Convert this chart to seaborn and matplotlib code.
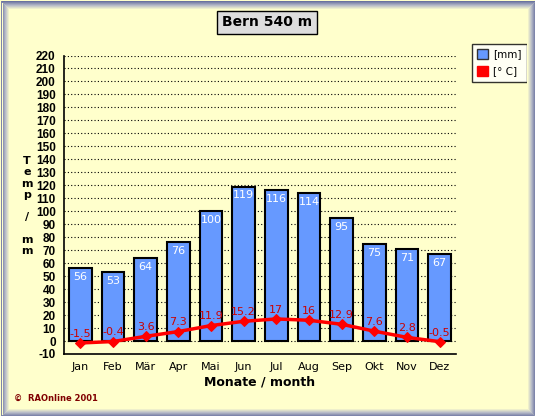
import numpy as np
import pandas as pd
import matplotlib
matplotlib.use("Agg")
import matplotlib.pyplot as plt
from matplotlib.patches import Rectangle, Patch
import seaborn as sns

# Bern 540 m - Klimadiagramm
months = ['Jan', 'Feb', 'Mär', 'Apr', 'Mai', 'Jun', 'Jul', 'Aug', 'Sep', 'Okt', 'Nov', 'Dez']
rain_mm = [56, 53, 64, 76, 100, 119, 116, 114, 95, 75, 71, 67]
temp_c = [-1.5, -0.4, 3.6, 7.3, 11.9, 15.2, 17, 16, 12.9, 7.6, 2.8, -0.5]
y_ticks = list(range(-10, 230, 10))

df = pd.DataFrame({'Monat': months, 'mm': rain_mm, 'temp': temp_c})

BG = '#FFFFCC'
BLUE = '#6699FF'
RED = '#FF0000'

sns.set_style('white')
plt.rcParams['font.family'] = ['DejaVu Sans']
plt.rcParams['text.color'] = 'black'
plt.rcParams['xtick.color'] = 'black'
plt.rcParams['ytick.color'] = 'black'
plt.rcParams['axes.labelcolor'] = 'black'

fig = plt.figure(figsize=(5.35, 4.16), dpi=100, facecolor=BG)
ax = fig.add_axes([64 / 535, 1 - 354 / 416, 392 / 535, 298.5 / 416])
ax.set_facecolor(BG)

# dotted grid behind the bars
for v in y_ticks[1:]:
    ax.axhline(v, color='black', linestyle=(0, (1, 2)), linewidth=0.8, zorder=0)

sns.barplot(data=df, x='Monat', y='mm', color=BLUE, width=0.7, edgecolor='black',
            linewidth=1.5, saturation=1, ax=ax, zorder=2)

x_pos = np.arange(len(months))
sns.lineplot(x=x_pos, y=df['temp'], color=RED, linewidth=2.5, marker='D', markersize=5,
             markeredgecolor=RED, ax=ax, zorder=4)

for i, v in enumerate(rain_mm):
    ax.text(i, v - 3, str(v), color='white', ha='center', va='top', fontsize=8, zorder=5)
for i, t in enumerate(temp_c):
    lab = f'{t:g}'
    ax.annotate(lab, (i, t), xytext=(0, 3), textcoords='offset points', ha='center',
                va='bottom', color='#CC0000', fontsize=8, zorder=5)

ax.set_xlim(-0.5, 11.5)
ax.set_ylim(-10, 220)
ax.set_yticks(y_ticks)
ax.set_yticklabels([str(v) for v in y_ticks], fontsize=8.5, fontweight='bold',
                   family='Liberation Sans')
ax.set_xticks(x_pos)
ax.set_xticklabels(months, fontsize=8)
ax.set_xticks(np.arange(-0.5, 12, 1), minor=True)
ax.tick_params(axis='x', which='major', length=0, pad=6)
ax.tick_params(axis='x', which='minor', length=5, width=1, direction='out', color='black')
ax.tick_params(axis='y', length=5, width=1, direction='out', color='black', pad=1)
ax.set_xlabel('Monate / month', fontsize=9, fontweight='bold', labelpad=2)
ax.set_ylabel('')
for s in ['top', 'right']:
    ax.spines[s].set_visible(False)
for s in ['left', 'bottom']:
    ax.spines[s].set_color('black')
    ax.spines[s].set_linewidth(1.2)

# stacked y label
fig.text(27 / 535, 1 - 206 / 416, 'T\ne\nm\np\n\n/\n\nm\nm', ha='center', va='center',
         fontsize=8, fontweight='bold', linespacing=1.15)

# title box
fig.text(267 / 535, 1 - 22.5 / 416, 'Bern 540 m', ha='center', va='center', fontsize=10,
         fontweight='bold', bbox=dict(boxstyle='square,pad=0.35', facecolor='#DDDDDD',
                                      edgecolor='black', linewidth=1))

# legend
handles = [Patch(facecolor=BLUE, edgecolor='#333333', label='[mm]'),
           Patch(facecolor=RED, edgecolor=RED, label='[° C]')]
leg = fig.legend(handles=handles, loc='upper left', bbox_to_anchor=(472 / 535, 1 - 44 / 416),
                 fontsize=7.5, frameon=True, fancybox=False, handlelength=1.0, handleheight=1.0,
                 handletextpad=0.5, borderpad=0.5, labelspacing=0.65, borderaxespad=0)
leg.get_frame().set_edgecolor('black')
leg.get_frame().set_linewidth(1)
leg.get_frame().set_facecolor('white')

fig.text(14 / 535, 1 - 398 / 416, '©  RAOnline 2001', ha='left', va='center', fontsize=6,
         fontweight='bold', color='#800000')

# bevelled frame
cols = sns.blend_palette(['#6A72A0', '#B8BCC8', BG], 9)
W, H = 535, 416
for i, c in enumerate(cols):
    fig.patches.append(Rectangle(((i + 0.5) / W, (i + 0.5) / H), 1 - (2 * i + 1) / W,
                                 1 - (2 * i + 1) / H, transform=fig.transFigure, fill=False,
                                 edgecolor=c, linewidth=0.72, zorder=10))

fig.savefig('out.png', dpi=100, facecolor=BG)
